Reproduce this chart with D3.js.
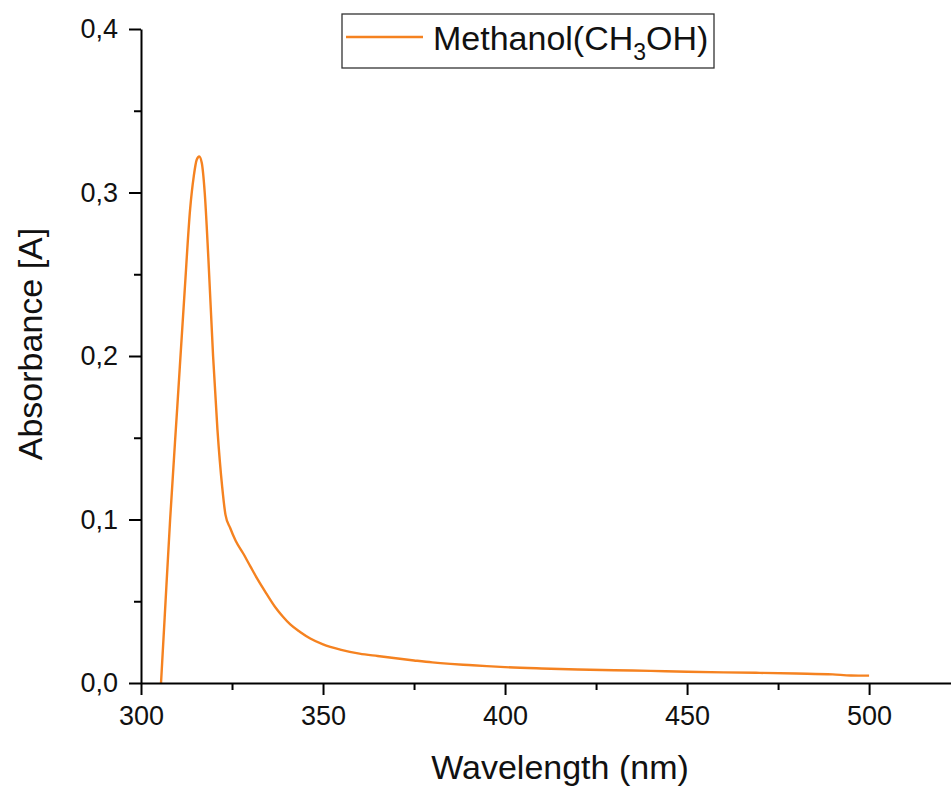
<!DOCTYPE html>
<html>
<head>
<meta charset="utf-8">
<script src="https://cdn.jsdelivr.net/npm/d3@7"></script>
<style>
  html, body { margin: 0; padding: 0; background: #fff; }
  svg { display: block; font-family: "Liberation Sans", Arial, sans-serif; }
</style>
</head>
<body>
<svg id="chart" width="951" height="789"></svg>
<script>
// ---- data ----
const wavelength = [305.5, 306.5, 308, 310, 312, 313.5, 314.5, 315.3, 316, 316.7, 317.5, 318.5, 319.8, 321, 322.3, 323.2, 324.5, 326, 328, 330, 332, 334.5, 337, 339, 341, 343.7, 346.5, 350, 355, 360, 365, 370, 375, 380, 385, 390, 395, 400, 410, 420, 430, 440, 450, 460, 470, 480, 490, 495, 500];
const absorbance = [0.0, 0.04, 0.10, 0.17, 0.24, 0.29, 0.31, 0.32, 0.322, 0.318, 0.30, 0.26, 0.20, 0.155, 0.12, 0.103, 0.0948, 0.087, 0.0795, 0.0715, 0.0635, 0.0545, 0.046, 0.0405, 0.0358, 0.0312, 0.0272, 0.0236, 0.0203, 0.018, 0.0165, 0.0151, 0.0138, 0.0126, 0.0117, 0.011, 0.0103, 0.0097, 0.0089, 0.0083, 0.0078, 0.0074, 0.0069, 0.0065, 0.0062, 0.0058, 0.0053, 0.0046, 0.0045];
const xTicks = [300, 350, 400, 450, 500];
const xMinorTicks = [325, 375, 425, 475];
const yTicks = [0, 0.1, 0.2, 0.3, 0.4];
const yMinorTicks = [0.05, 0.15, 0.25, 0.35];
const seriesName = "Methanol(CH";
const seriesSub = "3";
const seriesTail = "OH)";
const xTitle = "Wavelength (nm)";
const yTitle = "Absorbance [A]";

// ---- layout ----
const svg = d3.select("#chart");
const mLeft = 141, mRight = 951, mTop = 29, mBottom = 683;
const x = d3.scaleLinear().domain([300, 522.5]).range([mLeft, mRight]);
const y = d3.scaleLinear().domain([0, 0.4]).range([mBottom, mTop]);
const fmt = d => d3.format(".1f")(d).replace(".", ",");
const lineColor = "#f58220";

// curve
const data = wavelength.map((w, i) => ({w, a: absorbance[i]}));
svg.append("path")
  .datum(data)
  .attr("fill", "none")
  .attr("stroke", lineColor)
  .attr("stroke-width", 2.4)
  .attr("stroke-linejoin", "round")
  .attr("d", d3.line().curve(d3.curveMonotoneX).x(d => x(d.w)).y(d => y(d.a)));

// x axis
const gx = svg.append("g").attr("transform", `translate(0,${mBottom})`);
gx.call(d3.axisBottom(x).tickValues(xTicks).tickSize(12).tickSizeOuter(0).tickPadding(11).tickFormat(d3.format("d")));
const gxm = svg.append("g").attr("transform", `translate(0,${mBottom})`);
gxm.call(d3.axisBottom(x).tickValues(xMinorTicks).tickSize(7).tickSizeOuter(0).tickFormat(""));
gxm.select(".domain").remove();

// y axis
const gy = svg.append("g").attr("transform", `translate(${mLeft},0)`);
gy.call(d3.axisLeft(y).tickValues(yTicks).tickSize(12).tickSizeOuter(0).tickPadding(11).tickFormat(fmt));
const gym = svg.append("g").attr("transform", `translate(${mLeft},0)`);
gym.call(d3.axisLeft(y).tickValues(yMinorTicks).tickSize(7).tickSizeOuter(0).tickFormat(""));
gym.select(".domain").remove();

svg.selectAll(".domain, .tick line").attr("stroke", "#000").attr("stroke-width", 2);
svg.selectAll(".tick text").attr("fill", "#111").style("font-size", "27px").style("font-family", "'Liberation Sans', Arial, sans-serif");

// axis titles
svg.append("text")
  .attr("x", 560).attr("y", 779)
  .attr("text-anchor", "middle")
  .style("font-size", "34px").attr("fill", "#111")
  .text(xTitle);
svg.append("text")
  .attr("transform", `translate(42,344) rotate(-90)`)
  .attr("text-anchor", "middle")
  .style("font-size", "34px").attr("fill", "#111")
  .text(yTitle);

// legend
const lg = svg.append("g");
lg.append("rect").attr("x", 342).attr("y", 14).attr("width", 372).attr("height", 54)
  .attr("fill", "#fff").attr("stroke", "#333").attr("stroke-width", 1.3);
lg.append("line").attr("x1", 346).attr("x2", 423).attr("y1", 37).attr("y2", 37)
  .attr("stroke", lineColor).attr("stroke-width", 2.4);
const lt = lg.append("text").attr("x", 433).attr("y", 50).style("font-size", "34px").attr("fill", "#111");
lt.append("tspan").text(seriesName);
lt.append("tspan").attr("dy", 10).style("font-size", "23px").text(seriesSub);
lt.append("tspan").attr("dy", -10).text(seriesTail);
</script>
</body>
</html>
